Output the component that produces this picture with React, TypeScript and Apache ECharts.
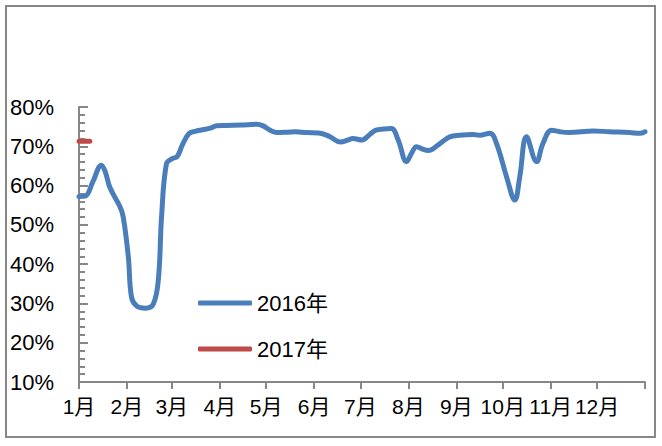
import React, { useEffect, useRef } from "react";
import * as echarts from "echarts";

const monthLabels = ["1月", "2月", "3月", "4月", "5月", "6月", "7月", "8月", "9月", "10月", "11月", "12月"];
const monthStarts = [0, 31, 60, 91, 121, 152, 182, 213, 244, 274, 305, 335, 366];

const days2016 = [0, 4, 9, 14.5, 17, 20, 26.5, 28.6, 31.9, 34, 37.5, 43, 48, 51.3, 53.4, 56.5, 60, 63.5, 67, 71, 75, 80, 85, 89, 95, 105, 115, 119, 124, 128, 135, 140, 147, 155, 162, 169, 174, 177, 183, 188, 192, 197, 202, 206.4, 211.8, 215, 218.3, 222.6, 225.8, 233.4, 239.8, 246, 254.9, 259, 265.7, 270, 276.5, 281.8, 285, 289.4, 295.9, 300, 305.6, 311, 317, 332.5, 343, 356, 362.6, 366];
const values2016 = [57.2, 57.3, 61, 65.2, 63.5, 59.5, 54.6, 52, 41.9, 31.5, 29.3, 28.8, 29.8, 36, 52.1, 65.5, 66.8, 67.4, 70.5, 73.2, 73.8, 74.2, 74.6, 75.2, 75.3, 75.4, 75.6, 75.2, 74, 73.5, 73.6, 73.7, 73.5, 73.4, 72.5, 71.1, 71.6, 72, 71.6, 73, 74.1, 74.4, 74.5, 71.6, 66.1, 68.2, 69.9, 69.2, 68.9, 70.7, 72.4, 72.8, 73, 72.8, 73.3, 70.7, 62.2, 56.3, 62.2, 72.4, 66.1, 70.7, 74.1, 73.7, 73.5, 73.9, 73.7, 73.5, 73.3, 73.7];

const days2017 = [0, 7];
const values2017 = [71.3, 71.3];

const FONT = "'Liberation Sans', 'Noto Sans CJK SC', sans-serif";
const GRAY = "#878787";

export default function App() {
  const ref = useRef<HTMLDivElement>(null);
  useEffect(() => {
    if (!ref.current) return;
    const chart = echarts.init(ref.current, null, { renderer: "svg" });
    chart.setOption({
      animation: false,
      backgroundColor: "#ffffff",
      grid: { left: 79, right: 17, top: 107, bottom: 64 },
      graphic: [
        {
          type: "rect",
          shape: { x: 6, y: 6, width: 649, height: 431 },
          style: { fill: "none", stroke: GRAY, lineWidth: 2 },
          silent: true,
        },
      ],
      legend: {
        orient: "vertical",
        left: 193,
        top: 286,
        itemWidth: 54,
        itemHeight: 5,
        itemGap: 22,
        icon: "roundRect",
        textStyle: { fontFamily: FONT, fontSize: 22, color: "#000", lineHeight: 24 },
        data: ["2016年", "2017年"],
      },
      xAxis: {
        type: "value",
        min: 0,
        max: 366,
        axisLine: { show: true, lineStyle: { color: GRAY, width: 2 } },
        axisTick: { show: true, length: 7, customValues: monthStarts, lineStyle: { color: GRAY, width: 2 } },
        axisLabel: {
          customValues: monthStarts.slice(0, 12),
          formatter: (v: number) => monthLabels[monthStarts.indexOf(v)] ?? "",
          fontFamily: FONT,
          fontSize: 21,
          color: "#000",
          margin: 14,
        },
        splitLine: { show: false },
      },
      yAxis: {
        type: "value",
        min: 10,
        max: 80,
        interval: 10,
        axisLine: { show: true, lineStyle: { color: GRAY, width: 2 } },
        axisTick: { show: true, inside: true, length: 9, lineStyle: { color: GRAY, width: 2 } },
        minorTick: { show: true, splitNumber: 5, length: 6, lineStyle: { color: GRAY, width: 2 } },
        axisLabel: {
          formatter: "{value}%",
          fontFamily: FONT,
          fontSize: 22,
          color: "#000",
          margin: 25,
        },
        splitLine: { show: false },
      },
      series: [
        {
          name: "2016年",
          type: "line",
          smooth: 0.4,
          symbol: "none",
          color: "#4A7EBB",
          lineStyle: { width: 5, color: "#4A7EBB", cap: "round", join: "round" },
          data: days2016.map((d, i) => [d, values2016[i]]),
        },
        {
          name: "2017年",
          type: "line",
          symbol: "none",
          color: "#BE4B48",
          lineStyle: { width: 5, color: "#BE4B48", cap: "round" },
          data: days2017.map((d, i) => [d, values2017[i]]),
        },
      ],
    });
    return () => chart.dispose();
  }, []);
  return (
    <div
      ref={ref}
      style={{ position: "fixed", left: 0, top: 0, width: 662, height: 446, background: "#fff" }}
    />
  );
}
